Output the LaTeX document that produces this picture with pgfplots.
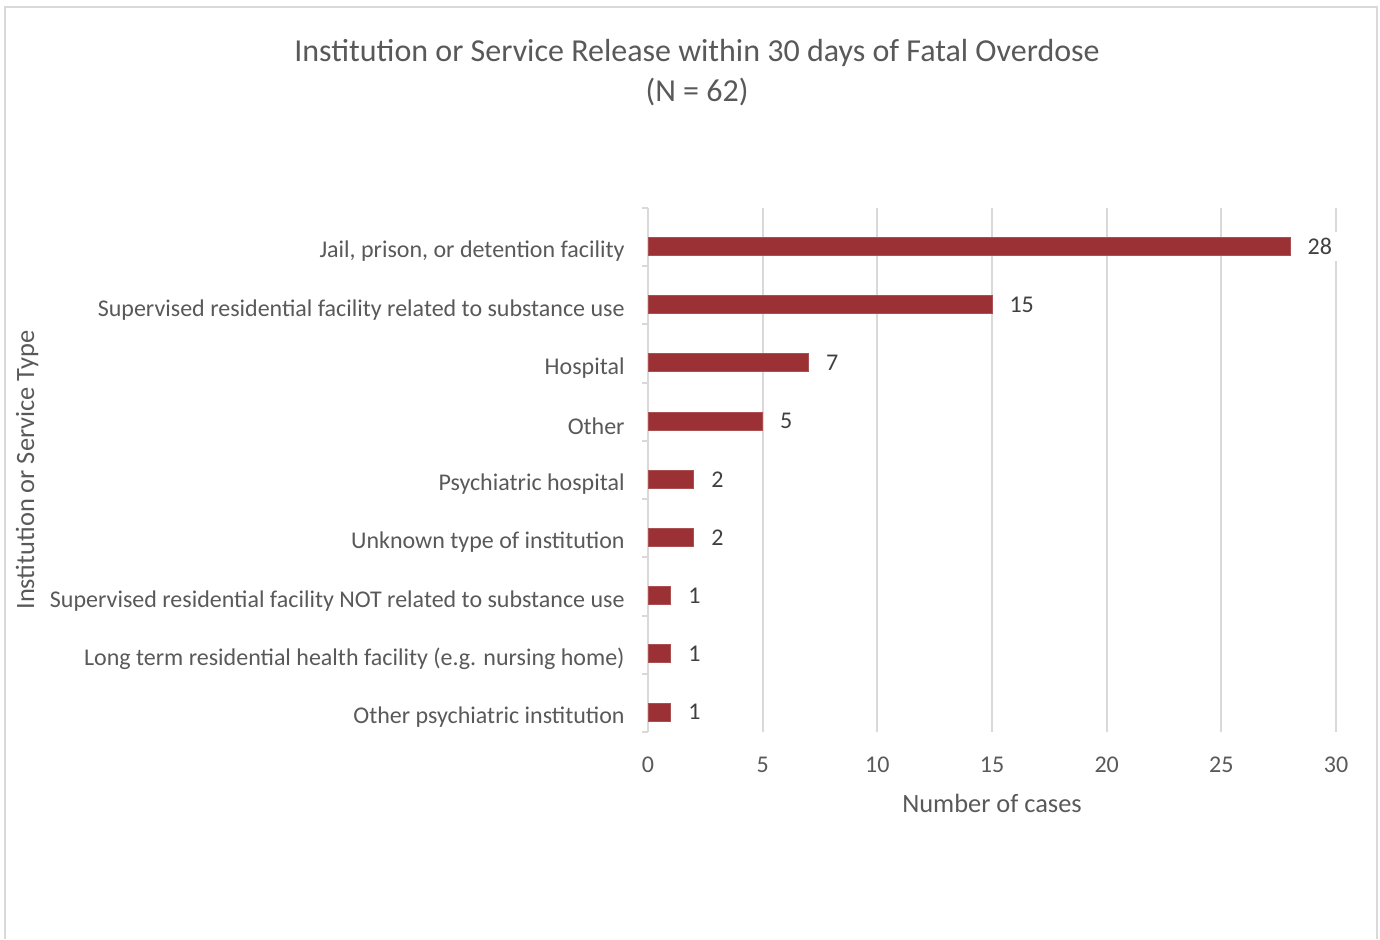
\documentclass[border=0pt]{standalone}
\usepackage{pgfplots}
\pgfplotsset{compat=1.18}
\usepackage{fontspec}
\setmainfont{Carlito}
\definecolor{barred}{HTML}{9B3135}
\definecolor{gridgray}{HTML}{D9D9D9}
\definecolor{txtgray}{HTML}{595959}
\definecolor{lblgray}{HTML}{404040}

\begin{document}
\begin{tikzpicture}
\path (0pt,0pt) rectangle (690pt,469.5pt);
% chart frame (no bottom edge visible)
\draw[gridgray, line width=1pt] (2.5pt,0pt) -- (2.5pt,466pt) -- (688.5pt,466pt) -- (688.5pt,0pt);
% titles
\node[txtgray, font=\fontsize{16}{18}\selectfont] at (348.5pt,443pt) {Institution or Service Release within 30 days of Fatal Overdose};
\node[txtgray, font=\fontsize{16}{18}\selectfont] at (348.5pt,423.5pt) {(N = 62)};
\node[txtgray, font=\fontsize{13.2}{16}\selectfont, rotate=90] at (13.5pt,234.5pt) {Institution or Service Type};
\node[txtgray, font=\fontsize{13.2}{16}\selectfont] at (496pt,68pt) {Number of cases};

\begin{axis}[
  at={(324pt,103.5pt)}, anchor=south west,
  scale only axis,
  width=344pt, height=262pt,
  xbar, bar width=9pt,
  xmin=0, xmax=30,
  ymin=-0.66, ymax=8.34,
  y dir=reverse,
  axis x line*=bottom, axis y line*=left,
  x axis line style={draw=none},
  y axis line style={gridgray, line width=1pt},
  xtick={0,5,...,30},
  xtick style={draw=none},
  xmajorgrids,
  major grid style={gridgray, line width=1pt},
  ytick={0,1,2,3,4,5,6,7,8},
  yticklabels={
    {Jail, prison, or detention facility},
    {Supervised residential facility related to substance use},
    {Hospital},
    {Other},
    {Psychiatric hospital},
    {Unknown type of institution},
    {Supervised residential facility NOT related to substance use},
    {Long term residential health facility (e.g. nursing home)},
    {Other psychiatric institution}},
  minor ytick={-0.66,0.34,1.34,2.34,3.34,4.34,5.34,6.34,7.34,8.34},
  major tick length=0pt,
  minor tick length=3pt,
  tick align=outside,
  minor tick style={gridgray, line width=1pt},
  /pgf/number format/assume math mode=true,
  yticklabel style={font=\fontsize{12}{14}\selectfont, text=txtgray, anchor=east, inner sep=0pt, xshift=-11.5pt, yshift=-2.5pt},
  xticklabel style={font=\fontsize{12}{14}\selectfont, text=txtgray, anchor=base, inner sep=0pt, yshift=-20pt},
  nodes near coords,
  every node near coord/.append style={font=\fontsize{12}{14}\selectfont, text=lblgray, anchor=west, fill=white, inner sep=3pt, xshift=5.5pt},
  clip=false,
]
\addplot[fill=barred, draw=barred!85!white, line width=0.5pt]
  coordinates {(28,0) (15,1) (7,2) (5,3) (2,4) (2,5) (1,6) (1,7) (1,8)};
\end{axis}
\end{tikzpicture}
\end{document}
